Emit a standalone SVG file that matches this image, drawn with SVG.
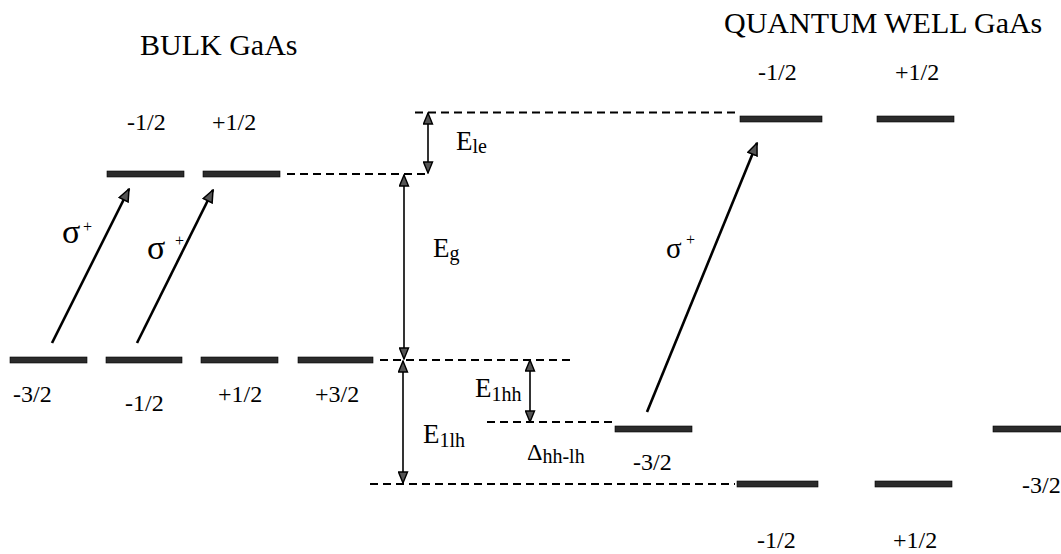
<svg xmlns="http://www.w3.org/2000/svg" width="1061" height="554" viewBox="0 0 1061 554">
<defs>
<style>
text{font-family:"Liberation Serif","Times New Roman",serif;fill:#000}
.title{font-size:30px}
.num{font-size:24px}
.e{font-size:27px}
.sub{font-size:20px}
.sig{font-size:34px}
.sup{font-size:16px}
.lvl{fill:#2b2b2b;stroke:#000;stroke-width:0.6}
.dash{stroke:#000;stroke-width:2;stroke-dasharray:8 5;fill:none}
.trans{stroke:#000;stroke-width:2.6;fill:none;marker-end:url(#big)}
.dbl{stroke:#000;stroke-width:1.6;fill:none;marker-start:url(#small);marker-end:url(#small)}
</style>
<marker id="big" markerUnits="userSpaceOnUse" viewBox="0 0 14 12" refX="13" refY="6" markerWidth="14" markerHeight="12" orient="auto">
<path d="M1,1 L13,6 L1,11 Z" fill="#555" stroke="#000" stroke-width="1.5" stroke-linejoin="miter"/>
</marker>
<marker id="small" markerUnits="userSpaceOnUse" viewBox="0 0 13 11" refX="12" refY="5.5" markerWidth="13" markerHeight="11" orient="auto-start-reverse">
<path d="M1,1 L12,5.5 L1,10 Z" fill="#555" stroke="#000" stroke-width="1.4"/>
</marker>
</defs>
<rect width="1061" height="554" fill="#fff"/>

<g id="titles">
<text class="title" x="140" y="55">BULK GaAs</text>
<text class="title" x="724" y="33">QUANTUM WELL GaAs</text>
</g>

<g id="connectors">
<line class="dash" x1="415" y1="112.5" x2="737" y2="112.5"/>
<line class="dash" x1="287" y1="174" x2="427" y2="174"/>
<line class="dash" x1="380" y1="360" x2="573" y2="360"/>
<line class="dash" x1="487" y1="422" x2="612" y2="422"/>
<line class="dash" x1="370" y1="484" x2="735" y2="484"/>
<line class="trans" x1="52" y1="343" x2="129" y2="189"/>
<line class="trans" x1="137" y1="343" x2="213" y2="190"/>
<line class="trans" x1="647" y1="412" x2="757" y2="143"/>
<line class="dbl" x1="428" y1="113" x2="428" y2="173"/>
<line class="dbl" x1="404" y1="175" x2="404" y2="359"/>
<line class="dbl" x1="403" y1="361" x2="403" y2="483"/>
<line class="dbl" x1="530" y1="360" x2="530" y2="422"/>
</g>

<g id="bulk-upper-m12"><rect class="lvl" x="107" y="171" width="77" height="6"/><text class="num" x="127" y="130">-1/2</text></g>
<g id="bulk-upper-p12"><rect class="lvl" x="203" y="171" width="77" height="6"/><text class="num" x="212" y="130">+1/2</text></g>
<g id="bulk-lower-m32"><rect class="lvl" x="10" y="357" width="77" height="6"/><text class="num" x="13" y="402">-3/2</text></g>
<g id="bulk-lower-m12"><rect class="lvl" x="106" y="357" width="76" height="6"/><text class="num" x="125" y="411">-1/2</text></g>
<g id="bulk-lower-p12"><rect class="lvl" x="201" y="357" width="77" height="6"/><text class="num" x="218" y="402">+1/2</text></g>
<g id="bulk-lower-p32"><rect class="lvl" x="298" y="357" width="75" height="6"/><text class="num" x="315" y="402">+3/2</text></g>

<g id="qw-upper-m12"><rect class="lvl" x="740" y="116" width="82" height="6"/><text class="num" x="758" y="80">-1/2</text></g>
<g id="qw-upper-p12"><rect class="lvl" x="877" y="116" width="77" height="6"/><text class="num" x="895" y="80">+1/2</text></g>
<g id="qw-hh-m32"><rect class="lvl" x="615" y="426" width="77" height="6"/><text class="num" x="633" y="470">-3/2</text></g>
<g id="qw-hh-right"><rect class="lvl" x="993" y="426" width="70" height="6"/><text class="num" x="1022" y="493">-3/2</text></g>
<g id="qw-lh-m12"><rect class="lvl" x="737" y="481" width="81" height="6"/><text class="num" x="757" y="548">-1/2</text></g>
<g id="qw-lh-p12"><rect class="lvl" x="875" y="481" width="77" height="6"/><text class="num" x="893" y="548">+1/2</text></g>

<g id="labels">
<text class="sig" x="62" y="243">σ</text><text class="sup" x="83" y="232">+</text>
<text class="sig" x="147" y="259">σ</text><text class="sup" x="175" y="246">+</text>
<text class="sig" x="666" y="258" style="font-size:29px">σ</text><text class="sup" x="686" y="245">+</text>
<text class="e" x="456" y="150">E<tspan class="sub" dy="3">le</tspan></text>
<text class="e" x="433" y="257">E<tspan class="sub" dy="3">g</tspan></text>
<text class="e" x="475" y="397">E<tspan class="sub" dy="4">1hh</tspan></text>
<text class="e" x="423" y="443">E<tspan class="sub" dy="4">1lh</tspan></text>
<text class="e" x="527" y="460" style="font-size:24px">Δ<tspan class="sub" dy="3">hh-lh</tspan></text>
</g>
</svg>
